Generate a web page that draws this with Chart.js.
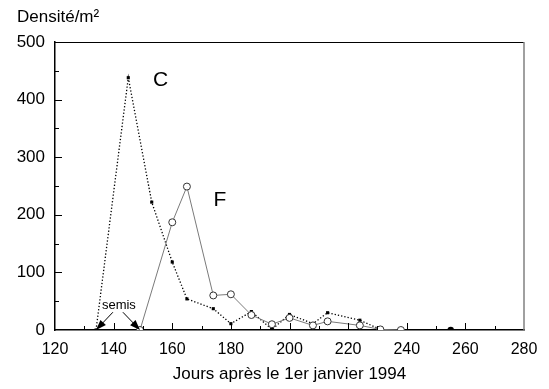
<!DOCTYPE html>
<html>
<head>
<meta charset="utf-8">
<script src="https://cdn.jsdelivr.net/npm/chart.js@4.4.1/dist/chart.umd.min.js"></script>
<style>
  html, body { margin: 0; padding: 0; background: #fff; }
  #wrap { width: 549px; height: 389px; position: relative; }
</style>
</head>
<body>
<div id="wrap"><canvas id="myChart"></canvas></div>
<script>
// Série C (carrés noirs, pointillés)
const cDays = [134, 145, 153, 160, 165, 174, 180, 187, 194, 200, 208, 213, 224, 231, 238, 255];
const cValues = [0, 438, 222, 118, 54, 37, 11, 32, 1, 27, 11, 30, 17, 1, 0, 0];

// Série F (cercles vides, trait gris)
const fDays = [149, 160, 165, 174, 180, 187, 194, 200, 208, 213, 224, 231, 238];
const fValues = [0, 187, 249, 60, 62, 26, 10, 21, 8, 15, 8, 1, 0];

const xTicks = [120, 140, 160, 180, 200, 220, 240, 260, 280];
const yTicks = [0, 100, 200, 300, 400, 500];

const police = 'Liberation Sans, Arial, Helvetica, sans-serif';

function versPoints(xs, ys) {
    return xs.map((x, i) => ({ x: x, y: ys[i] }));
}

// Cadre, graduations intérieures, étiquettes et flèches
const decor = {
    id: 'decor',
    afterDatasetsDraw(chart) {
        const ctx = chart.ctx;
        const a = chart.chartArea;
        const sx = chart.scales.x;
        const sy = chart.scales.y;
        ctx.save();
        // haut noir, droite grise
        ctx.lineWidth = 1;
        ctx.strokeStyle = '#000';
        ctx.beginPath();
        ctx.moveTo(a.left, a.top + 0.5);
        ctx.lineTo(a.right, a.top + 0.5);
        ctx.stroke();
        ctx.strokeStyle = '#808080';
        ctx.lineWidth = 1.5;
        ctx.beginPath();
        ctx.moveTo(a.right, a.top);
        ctx.lineTo(a.right, a.bottom);
        ctx.stroke();

        // graduations vers l'intérieur
        ctx.strokeStyle = '#000';
        ctx.lineWidth = 1;
        for (let v = 130; v < 280; v += 10) {
            const px = Math.round(sx.getPixelForValue(v)) + 0.5;
            const len = v % 20 === 0 ? 7 : 4;
            ctx.beginPath();
            ctx.moveTo(px, a.bottom);
            ctx.lineTo(px, a.bottom - len);
            ctx.stroke();
        }
        for (let v = 50; v < 500; v += 50) {
            const py = Math.round(sy.getPixelForValue(v)) + 0.5;
            const len = v % 100 === 0 ? 7 : 4;
            ctx.beginPath();
            ctx.moveTo(a.left, py);
            ctx.lineTo(a.left + len, py);
            ctx.stroke();
        }

        // lettres C et F
        ctx.fillStyle = '#000';
        ctx.font = '21px ' + police;
        ctx.textAlign = 'center';
        ctx.textBaseline = 'middle';
        ctx.fillText('C', sx.getPixelForValue(156), sy.getPixelForValue(434));
        ctx.fillText('F', sx.getPixelForValue(176.3), sy.getPixelForValue(225));

        // semis
        ctx.font = '13px ' + police;
        const tx = sx.getPixelForValue(141.8);
        const ty = sy.getPixelForValue(43);
        ctx.fillText('semis', tx, ty);
        fleche(ctx, tx - 6, ty + 7, sx.getPixelForValue(cDays[0]), sy.getPixelForValue(0));
        fleche(ctx, tx + 4, ty + 7, sx.getPixelForValue(fDays[0]), sy.getPixelForValue(0));

        // titre axe y
        ctx.font = '17px ' + police;
        ctx.textAlign = 'left';
        ctx.fillText('Densité/m²', 17, 17);
        ctx.restore();
    }
};

function fleche(ctx, x1, y1, x2, y2) {
    const ang = Math.atan2(y2 - y1, x2 - x1);
    const tete = 11;
    ctx.strokeStyle = '#000';
    ctx.lineWidth = 1;
    ctx.beginPath();
    ctx.moveTo(x1, y1);
    ctx.lineTo(x2 - Math.cos(ang) * tete * 0.8, y2 - Math.sin(ang) * tete * 0.8);
    ctx.stroke();
    ctx.beginPath();
    ctx.moveTo(x2, y2);
    ctx.lineTo(x2 - tete * Math.cos(ang - 0.35), y2 - tete * Math.sin(ang - 0.35));
    ctx.lineTo(x2 - tete * Math.cos(ang + 0.35), y2 - tete * Math.sin(ang + 0.35));
    ctx.closePath();
    ctx.fillStyle = '#000';
    ctx.fill();
}

const config = {
    type: 'line',
    data: {
        datasets: [
            {
                label: 'F',
                data: versPoints(fDays, fValues),
                borderColor: '#7a7a7a',
                borderWidth: 1,
                pointStyle: 'circle',
                pointRadius: 3.5,
                pointBackgroundColor: '#fff',
                pointBorderColor: '#333',
                pointBorderWidth: 1,
                tension: 0
            },
            {
                label: 'C',
                data: versPoints(cDays, cValues),
                borderColor: '#000',
                borderWidth: 1.3,
                borderDash: [1.3, 2],
                // le dernier point est un rond plein
                pointStyle: c => c.dataIndex === cDays.length - 1 ? 'circle' : 'rect',
                pointRadius: c => c.dataIndex === cDays.length - 1 ? 3.2 : 2.2,
                pointBackgroundColor: '#000',
                pointBorderColor: '#000',
                pointBorderWidth: 0,
                tension: 0
            }
        ]
    },
    options: {
        responsive: true,
        maintainAspectRatio: false,
        animation: false,
        layout: { padding: { left: 0, top: 42, right: 25, bottom: 0 } },
        plugins: {
            legend: { display: false },
            tooltip: { enabled: false }
        },
        scales: {
            x: {
                type: 'linear',
                min: 120,
                max: 280,
                afterBuildTicks: s => { s.ticks = xTicks.map(v => ({ value: v })); },
                afterFit: s => { s.height = 59; },
                grid: { display: false },
                border: { display: true, color: '#000', width: 1.5 },
                ticks: { color: '#000', font: { family: police, size: 16 }, padding: 2, maxRotation: 0 },
                title: {
                    display: true,
                    text: 'Jours après le 1er janvier 1994',
                    color: '#000',
                    font: { family: police, size: 17 },
                    padding: { top: 2 }
                }
            },
            y: {
                min: 0,
                max: 500,
                afterBuildTicks: s => { s.ticks = yTicks.map(v => ({ value: v })); },
                afterFit: s => { s.width = 55; },
                grid: { display: false, drawTicks: false },
                border: { display: true, color: '#000', width: 1.5 },
                ticks: { color: '#000', font: { family: police, size: 17 }, padding: 10 }
            }
        }
    },
    plugins: [decor]
};

const myChart = new Chart(document.getElementById('myChart'), config);
</script>
</body>
</html>
